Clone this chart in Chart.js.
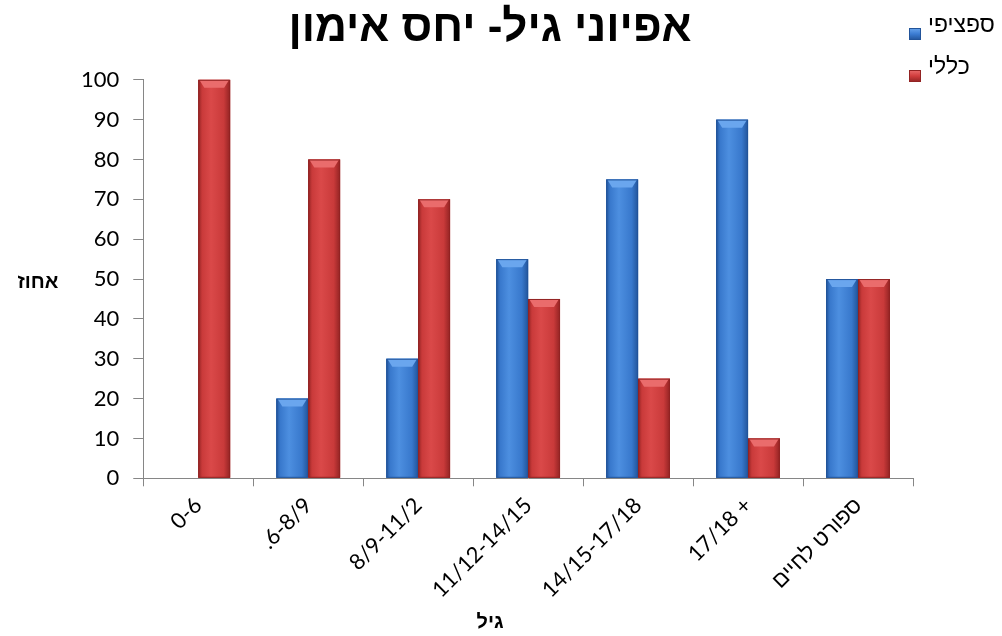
<!DOCTYPE html>
<html>
<head>
<meta charset="utf-8">
<script src="https://cdn.jsdelivr.net/npm/chart.js@4/dist/chart.umd.min.js"></script>
<style>
  html, body { margin: 0; padding: 0; background: #ffffff; }
  #wrap { width: 1002px; height: 636px; position: relative; }
</style>
</head>
<body>
<div id="wrap"><canvas id="chart" width="1002" height="636"></canvas></div>
<script>
// Age groups (x axis)
const categories = ['0-6', '.6-8/9', '8/9-11/2', '11/12-14/15', '14/15-17/18', '17/18 +', 'ספורט לחיים'];
// Share of training type per age group, in percent
const specificValues = [0, 20, 30, 55, 75, 90, 50];
const generalValues = [100, 80, 70, 45, 25, 10, 50];
const seriesNames = ['ספציפי', 'כללי'];
const yTicks = [0, 10, 20, 30, 40, 50, 60, 70, 80, 90, 100];

const chartTitle = 'אפיוני גיל- יחס אימון';
const yTitle = 'אחוז';
const xTitle = 'גיל';

const palettes = [
  { base: '#3b7cd2', edge: '#22549a', mid: '#3878cc', light: '#4d8fe0', top: '#6aa6ee' },
  { base: '#d13d3d', edge: '#922323', mid: '#c93a3a', light: '#da4949', top: '#ea6c6c' }
];

const tickFont = { family: 'Lato, "Liberation Sans", sans-serif', size: 22 };

// Bevelled shading on each bar, placed from the bar elements the scales computed
const bevelPlugin = {
  id: 'bevel',
  afterDatasetsDraw(chart) {
    const ctx = chart.ctx;
    chart.data.datasets.forEach((ds, di) => {
      const meta = chart.getDatasetMeta(di);
      const pal = palettes[di];
      meta.data.forEach(bar => {
        const { x, y, base, width } = bar.getProps(['x', 'y', 'base', 'width'], true);
        const h = base - y;
        if (h < 1) return;
        const l = x - width / 2, r = x + width / 2;
        ctx.save();
        const g = ctx.createLinearGradient(l, 0, r, 0);
        g.addColorStop(0, pal.edge);
        g.addColorStop(0.12, pal.mid);
        g.addColorStop(0.4, pal.light);
        g.addColorStop(0.8, pal.mid);
        g.addColorStop(1, pal.edge);
        ctx.fillStyle = g;
        ctx.fillRect(l, y, width, h);
        const b = Math.min(8, h / 2);
        ctx.fillStyle = pal.top;
        ctx.beginPath();
        ctx.moveTo(l + 1, y);
        ctx.lineTo(r - 1, y);
        ctx.lineTo(r - 6, y + b);
        ctx.lineTo(l + 6, y + b);
        ctx.closePath();
        ctx.fill();
        ctx.strokeStyle = pal.edge;
        ctx.lineWidth = 1;
        ctx.strokeRect(l + 0.5, y + 0.5, width - 1, h - 1);
        ctx.restore();
      });
    });
  }
};

// Legend at the top right and the horizontal axis titles
const extrasPlugin = {
  id: 'extras',
  afterDraw(chart) {
    const ctx = chart.ctx;
    const area = chart.chartArea;
    ctx.save();
    // legend
    chart.data.datasets.forEach((ds, i) => {
      const pal = palettes[i];
      const bx = 909, by = 28 + i * 42;
      const g = ctx.createLinearGradient(bx, by, bx, by + 12);
      g.addColorStop(0, pal.top);
      g.addColorStop(0.5, pal.base);
      g.addColorStop(1, pal.edge);
      ctx.fillStyle = g;
      ctx.fillRect(bx, by, 12, 12);
      ctx.strokeStyle = pal.edge;
      ctx.strokeRect(bx + 0.5, by + 0.5, 11, 11);
      ctx.fillStyle = '#000';
      ctx.font = '23px Lato, "Liberation Sans", sans-serif';
      ctx.textAlign = 'left';
      ctx.textBaseline = 'middle';
      ctx.fillText(ds.label, 928, 25 + i * 42);
    });
    // y axis title (horizontal)
    ctx.font = 'bold 20px "Liberation Sans", sans-serif';
    ctx.textAlign = 'center';
    ctx.textBaseline = 'middle';
    ctx.fillStyle = '#000';
    ctx.fillText(yTitle, 38, (area.top + area.bottom) / 2 + 3);
    // x axis title
    ctx.fillText(xTitle, 490, 622);
    ctx.restore();
  }
};

new Chart(document.getElementById('chart'), {
  type: 'bar',
  data: {
    labels: categories,
    datasets: [
      { label: seriesNames[0], data: specificValues, backgroundColor: palettes[0].base, borderWidth: 0 },
      { label: seriesNames[1], data: generalValues, backgroundColor: palettes[1].base, borderWidth: 0 }
    ]
  },
  options: {
    responsive: false,
    animation: false,
    devicePixelRatio: 1,
    layout: { padding: { top: 0, left: 67, right: 89, bottom: 27 } },
    datasets: { bar: { categoryPercentage: 0.58, barPercentage: 1.0 } },
    plugins: {
      legend: { display: false },
      tooltip: { enabled: false },
      title: {
        display: true,
        text: chartTitle,
        color: '#000',
        font: { family: '"Liberation Sans", sans-serif', size: 44, weight: 'bold' },
        padding: { top: 2, bottom: 25 }
      }
    },
    scales: {
      x: {
        grid: { drawOnChartArea: false, tickLength: 8, color: '#868686', offset: true },
        border: { color: '#868686' },
        ticks: { color: '#000', font: tickFont, minRotation: 45, maxRotation: 45, padding: 6 }
      },
      y: {
        min: 0,
        max: 100,
        afterBuildTicks(scale) { scale.ticks = yTicks.map(v => ({ value: v })); },
        grid: { drawOnChartArea: false, tickLength: 10, color: '#868686' },
        border: { color: '#868686' },
        ticks: { color: '#000', font: tickFont, padding: 14 }
      }
    }
  },
  plugins: [bevelPlugin, extrasPlugin]
});
</script>
</body>
</html>
